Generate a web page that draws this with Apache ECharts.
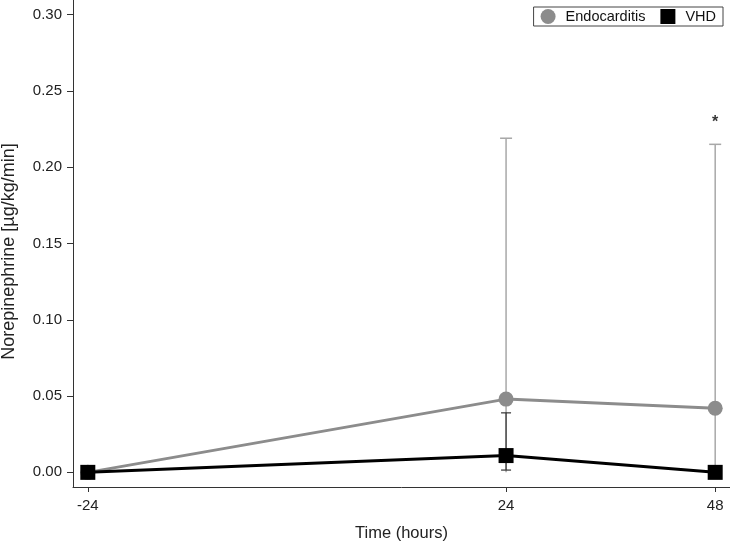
<!DOCTYPE html>
<html>
<head>
<meta charset="utf-8">
<script src="https://cdn.jsdelivr.net/npm/echarts@6/dist/echarts.min.js"></script>
<style>
  html, body { margin: 0; padding: 0; background: #fff; }
  #chart { width: 730px; height: 544px; }
</style>
</head>
<body>
<div id="chart"></div>
<script>
// data
var hours = [-24, 24, 48];
var endocarditis = [0.000, 0.048, 0.042];
var endoUpper = [0.000, 0.219, 0.215];
var vhd = [0.000, 0.011, 0.000];
var vhdUpper = [0.000, 0.039, 0.000];
var vhdLower = [0.000, 0.0015, 0.000];
var yTicks = [0, 0.05, 0.10, 0.15, 0.20, 0.25, 0.30];
var significant = [[48, 0.229]];

var font = 'Liberation Sans, Arial, sans-serif';

// error bar: vertical line from lower to upper, cap on top (and bottom if lowerCap)
function errBar(upper, lower, color, cap, width, lowerCap) {
  return {
    type: 'custom',
    silent: true,
    z: 1,
    data: hours.map(function (h, i) { return [h, lower[i], upper[i]]; }),
    renderItem: function (params, api) {
      if (api.value(2) <= api.value(1)) return;
      var lo = api.coord([api.value(0), api.value(1)]);
      var hi = api.coord([api.value(0), api.value(2)]);
      var x = lo[0];
      var st = { stroke: color, lineWidth: width };
      var kids = [
        { type: 'line', shape: { x1: x, y1: lo[1], x2: x, y2: hi[1] }, style: st },
        { type: 'line', shape: { x1: x - cap / 2, y1: hi[1], x2: x + cap / 2, y2: hi[1] }, style: st }
      ];
      if (lowerCap) {
        kids.push({ type: 'line', shape: { x1: x - cap / 2, y1: lo[1], x2: x + cap / 2, y2: lo[1] }, style: st });
      }
      return { type: 'group', children: kids };
    }
  };
}

var chart = echarts.init(document.getElementById('chart'));
chart.setOption({
  animation: false,
  textStyle: { fontFamily: font },
  grid: { left: 73, right: 0, top: 0, bottom: 57, outerBoundsMode: 'none' },
  legend: {
    right: 7, top: 7,
    data: [
      { name: 'Endocarditis', icon: 'circle' },
      { name: 'VHD', icon: 'rect' }
    ],
    itemWidth: 15, itemHeight: 15, itemGap: 15,
    borderColor: '#444', borderWidth: 1, borderRadius: 0,
    padding: [2, 7, 2, 7],
    textStyle: { fontSize: 14.5, color: '#111', fontFamily: font, padding: [0, 0, 0, 5] }
  },
  xAxis: {
    type: 'value',
    min: -25.7, max: 49.7,
    name: 'Time (hours)',
    nameLocation: 'middle',
    nameGap: 38,
    nameTextStyle: { fontSize: 16.5, color: '#222' },
    axisLine: { onZero: false, lineStyle: { color: '#333', width: 1 } },
    axisTick: { show: true, length: 5, customValues: hours, lineStyle: { color: '#333' } },
    axisLabel: { customValues: hours, fontSize: 15, color: '#222', margin: 11 },
    splitLine: { show: false }
  },
  yAxis: {
    type: 'value',
    min: -0.0096, max: 0.3096,
    name: 'Norepinephrine [µg/kg/min]',
    nameLocation: 'middle',
    nameGap: 55,
    nameTextStyle: { fontSize: 18, color: '#222', padding: [0, 16, 0, 0] },
    axisLine: { show: true, onZero: false, lineStyle: { color: '#333', width: 1 } },
    axisTick: { show: true, length: 6, customValues: yTicks, lineStyle: { color: '#333' } },
    axisLabel: {
      customValues: yTicks, fontSize: 15, color: '#222', margin: 11,
      formatter: function (v) { return v.toFixed(2); }
    },
    splitLine: { show: false }
  },
  series: [
    errBar(endoUpper, endocarditis.map(function () { return 0; }), '#a8a8a8', 12, 1.5, false),
    errBar(vhdUpper, vhdLower, '#333', 10, 1.2, true),
    {
      name: 'Endocarditis',
      type: 'line',
      z: 2,
      data: hours.map(function (h, i) { return [h, endocarditis[i]]; }),
      symbol: 'circle', symbolSize: 15,
      itemStyle: { color: '#8c8c8c' },
      lineStyle: { color: '#8c8c8c', width: 3 }
    },
    {
      name: 'VHD',
      type: 'line',
      z: 3,
      data: hours.map(function (h, i) { return [h, vhd[i]]; }),
      symbol: 'rect', symbolSize: 15,
      itemStyle: { color: '#000' },
      lineStyle: { color: '#000', width: 3 }
    },
    {
      type: 'scatter',
      silent: true,
      data: significant,
      symbolSize: 0,
      label: { show: true, position: 'inside', formatter: '*', fontSize: 16, fontWeight: 'bold', color: '#000' }
    }
  ]
});
</script>
</body>
</html>
